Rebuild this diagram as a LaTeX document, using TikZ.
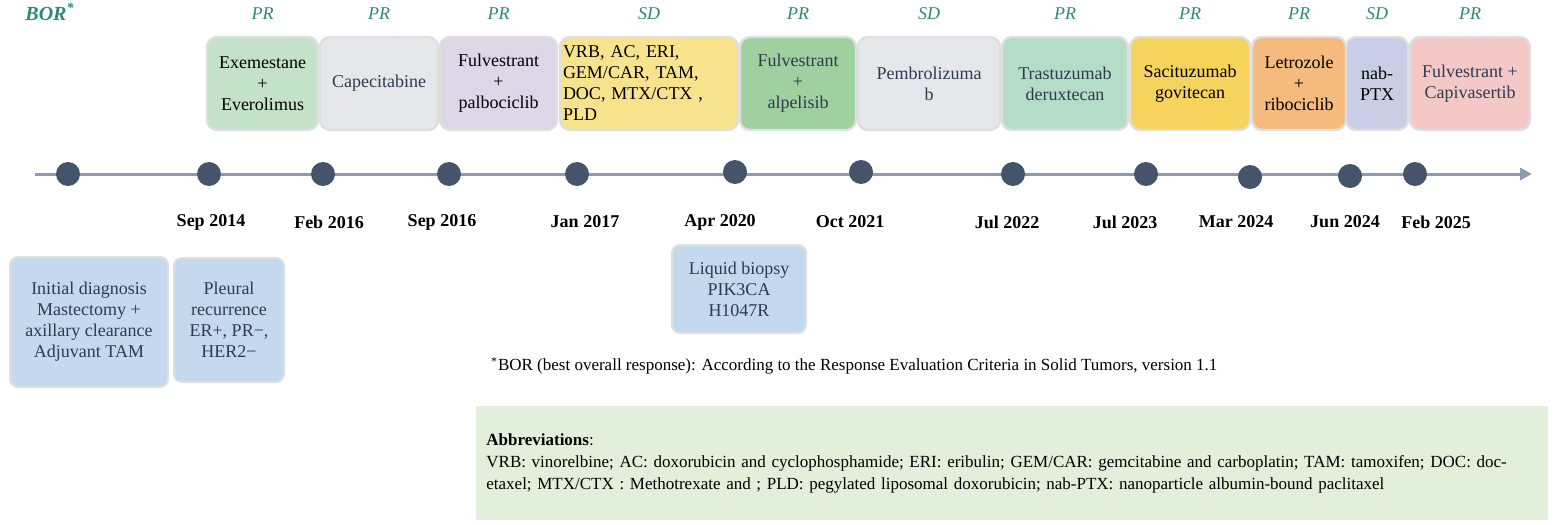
\documentclass[tikz,border=0pt]{standalone}
\usepackage{fontspec}
\setmainfont{Liberation Serif}
\usetikzlibrary{arrows.meta}
\definecolor{bor}{HTML}{2A8A78}
\definecolor{txt}{HTML}{2F3A4F}
\definecolor{dot}{HTML}{44546A}
\definecolor{axis}{HTML}{8E9AAF}
\tikzset{
  drug/.style={draw=gray!25,line width=1.2pt,rounded corners=5pt,align=center,
    font=\fontsize{9}{10.5}\selectfont,inner sep=1pt},
  resp/.style={text=bor,font=\fontsize{9}{10}\selectfont\itshape},
  date/.style={font=\fontsize{9}{10}\selectfont\bfseries},
  event/.style={draw=gray!25,line width=1pt,rounded corners=4pt,fill=note,align=center,
    text=txt,font=\fontsize{9}{10.5}\selectfont},
  tick/.style={circle,fill=dot,minimum size=12pt,inner sep=0pt}
}
\definecolor{note}{HTML}{C5D9EE}
\begin{document}
\begin{tikzpicture}[x=0.5pt,y=-0.5pt]
  \useasboundingbox (0,0) rectangle (1555,525);
  \node[resp,font=\fontsize{10}{10}\selectfont\bfseries\itshape] (bor) at (50,12) {BOR\textsuperscript{*}};
  % treatment boxes: x0, x1, colour, text, response
  \foreach \a/\b/\c/\t/\r/\n in {
      207/318/C3E2C9/{Exemestane\\+\\Everolimus}/PR/a,
      320/438/E6E7EA/{\textcolor{txt}{Capecitabine}}/PR/b,
      440/557/DED7E8/{Fulvestrant\\+\\palbociclib}/PR/c,
      740/856/9FD0A0/{\textcolor{txt}{Fulvestrant}\\\textcolor{txt}{+}\\\textcolor{txt}{alpelisib}}/PR/e,
      858/1000/E6E7EA/{\textcolor{txt}{Pembrolizuma}\\\textcolor{txt}{b}}/SD/f,
      1002/1128/B5DCC6/{\textcolor{txt}{Trastuzumab}\\\textcolor{txt}{deruxtecan}}/PR/g,
      1130/1250/F6D35C/{Sacituzumab\\govitecan}/PR/h,
      1252/1346/F5BA7D/{Letrozole\\+\\ribociclib}/PR/i,
      1346/1408/C9CDE6/{nab-\\PTX}/SD/j,
      1410/1530/F5C8C8/{\textcolor{txt}{Fulvestrant +}\\\textcolor{txt}{Capivasertib}}/PR/k}{
    \definecolor{bx}{HTML}{\c}
    \node[drug,fill=bx,minimum width=(\b-\a)*0.5pt,minimum height=46.5pt]
      (box\n) at ({(\a+\b)/2},83.5) {\t};
    \node[resp] (resp\n) at ({(\a+\b)/2},14) {\r};
  }
  \definecolor{bx}{HTML}{F7E38C}
  \node[drug,fill=bx,minimum width=89pt,minimum height=46.5pt,align=left,text width=86pt]
    (boxd) at (649,83.5) {VRB, AC, ERI,\\GEM/CAR, TAM,\\DOC, MTX/CTX ,\\PLD};
  \node[resp] (respd) at (649,14) {SD};
  % timeline
  \coordinate (start) at (35,174);
  \coordinate (end) at (1532,174);
  \draw[axis,line width=1.5pt,-{Triangle[length=6pt,width=6pt]}] (start) -- (end);
  \node[tick] (t0) at (68,174) {};
  \foreach \x/\y/\lx/\d [count=\i] in {209/174/211/Sep 2014, 323/174/329/Feb 2016,
      449/174/442/Sep 2016, 577/174/585/Jan 2017, 735/172/720/Apr 2020,
      861/172/850/Oct 2021, 1013/174/1007/Jul 2022, 1146/174/1125/Jul 2023,
      1250/177/1236/Mar 2024, 1350/176/1345/Jun 2024, 1415/174/1436/Feb 2025}{
    \node[tick] (t\i) at (\x,\y) {};
    \node[date] (d\i) at (\lx,222) {\d};
  }
  % events
  \node[event,minimum width=79pt,minimum height=65pt] (diag) at (89,322)
    {Initial diagnosis\\Mastectomy +\\axillary clearance\\Adjuvant TAM};
  \node[event,minimum width=55pt,minimum height=62pt] (pleura) at (229,320)
    {Pleural\\recurrence\\ER+, PR\textminus,\\HER2\textminus};
  \node[event,minimum width=67pt,minimum height=44pt] (biopsy) at (739,289)
    {Liquid biopsy\\PIK3CA\\H1047R};
  \node[anchor=west,font=\fontsize{8.5}{10}\selectfont] (foot) at (484,366)
    {\textsuperscript{*}BOR (best overall response): According to the Response Evaluation Criteria in Solid Tumors, version 1.1};
  \definecolor{abbr}{HTML}{E2EFDA}
  \node[fill=abbr,anchor=north west,minimum width=536pt,minimum height=57pt,
    text width=526pt,align=left,inner sep=4pt,font=\fontsize{8.5}{11}\selectfont] (abbrev) at (476,406)
    {\textbf{Abbreviations}:\\
     VRB: vinorelbine; AC: doxorubicin and cyclophosphamide; ERI: eribulin; GEM/CAR: gemcitabine and carboplatin; TAM: tamoxifen; DOC: docetaxel; MTX/CTX : Methotrexate and ; PLD: pegylated liposomal doxorubicin; nab-PTX: nanoparticle albumin-bound paclitaxel};
\end{tikzpicture}
\end{document}
